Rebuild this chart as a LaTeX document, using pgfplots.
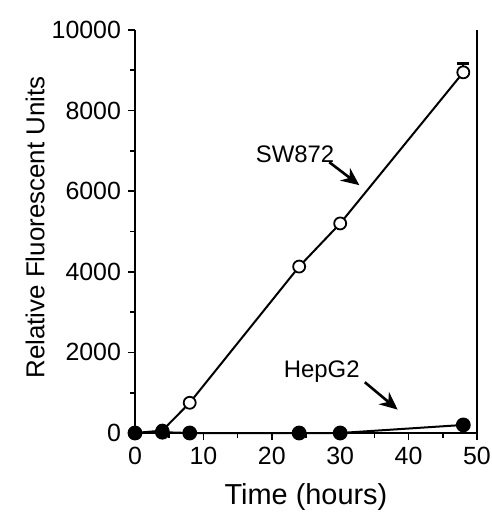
\documentclass[border=0pt]{standalone}
\usepackage{pgfplots}
\pgfplotsset{compat=1.18}
\usepackage{fontspec}
\setmainfont{Liberation Sans}
\usetikzlibrary{arrows.meta}

\begin{document}
\begin{tikzpicture}
% page size (1px = 0.5bp)
\useasboundingbox (-67.5bp,-44bp) rectangle (178.5bp,216.5bp);
\begin{axis}[
    at={(0,0)}, anchor=south west,
    scale only axis,
    width=171bp, height=201.5bp,
    xmin=0, xmax=50, ymin=0, ymax=10000,
    axis x line*=bottom, axis y line*=left,
    axis line style={line width=1bp, -},
    xtick={0,10,20,30,40,50},
    ytick={0,2000,4000,6000,8000,10000},
    minor x tick num=1, minor y tick num=1,
    tick align=outside,
    major tick length=3.5bp, minor tick length=2.5bp,
    every tick/.style={black, line width=0.8bp},
    scaled y ticks=false,
    /pgf/number format/assume math mode=true,
    yticklabel style={/pgf/number format/1000 sep={}},
    ticklabel style={font=\fontsize{12.5}{15}\selectfont},
    xlabel={Time (hours)},
    ylabel={Relative Fluorescent Units},
    every axis x label/.style={at={(axis description cs:0.5,-0.159)}, anchor=center,
        font=\fontsize{14.5}{17}\selectfont},
    every axis y label/.style={at={(axis description cs:-0.292,0.51)}, rotate=90, anchor=center,
        font=\fontsize{13}{16}\selectfont},
    clip=false,
]
% right spine
\draw[line width=1bp] (rel axis cs:1,0) -- (rel axis cs:1,1);

% SW872
\addplot[black, line width=1bp, mark=*, mark size=3bp,
    mark options={fill=white, line width=0.9bp},
    error bars/.cd, y dir=plus, y explicit,
    error bar style={line width=0.9bp},
    error mark options={rotate=90, mark size=3bp, line width=1.5bp}]
coordinates {
    (0,0) +- (0,0)
    (4,60) +- (0,0)
    (8,750) +- (0,0)
    (24,4130) +- (0,0)
    (30,5200) +- (0,0)
    (48,8950) +- (0,220)
};
% HepG2
\addplot[black, line width=1bp, mark=*, mark size=3.2bp, mark options={fill=black}]
coordinates {
    (0,0)
    (4,20)
    (8,0)
    (24,0)
    (30,0)
    (48,200)
};

\node[font=\fontsize{12}{14}\selectfont] at (axis cs:23.4,6920) {SW872};
\draw[line width=1.3bp, -{Stealth[length=9bp,width=8bp]}] (axis cs:28.4,6720) -- (axis cs:32.8,6150);
\node[font=\fontsize{12}{14}\selectfont] at (axis cs:27.3,1520) {HepG2};
\draw[line width=1.3bp, -{Stealth[length=9bp,width=8bp]}] (axis cs:33.6,1260) -- (axis cs:38.4,580);
\end{axis}
\end{tikzpicture}
\end{document}
